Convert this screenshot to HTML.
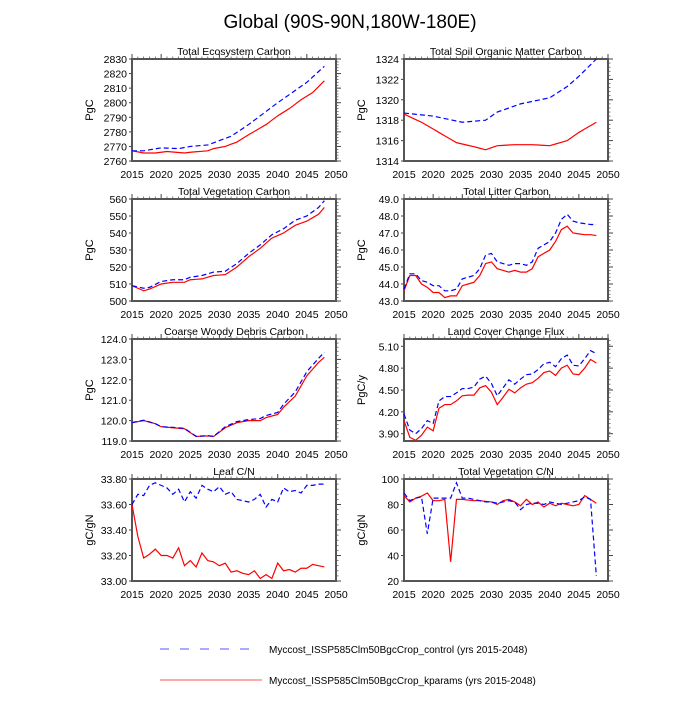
<!DOCTYPE html>
<html><head><meta charset="utf-8"><style>
body{margin:0;background:#fff;width:700px;height:700px;overflow:hidden}
svg text{font-family:"Liberation Sans",sans-serif;fill:#000}
</style></head><body>
<svg id="s" width="700" height="700" xmlns="http://www.w3.org/2000/svg">
<text x="350" y="28" font-size="19" text-anchor="middle">Global (90S-90N,180W-180E)</text>
<line x1="160" y1="649" x2="256" y2="649" stroke="#5555ff" stroke-width="1" stroke-dasharray="9,11"/>
<text x="269" y="653" font-size="10">Myccost_ISSP585Clm50BgcCrop_control (yrs 2015-2048)</text>
<line x1="160" y1="680" x2="262" y2="680" stroke="#ff5555" stroke-width="1"/>
<text x="269" y="684" font-size="10">Myccost_ISSP585Clm50BgcCrop_kparams (yrs 2015-2048)</text>
</svg>
<script>
const S=document.getElementById('s');
function el(t,a,txt){const e=document.createElementNS('http://www.w3.org/2000/svg',t);for(const k in a)e.setAttribute(k,a[k]);if(txt!==undefined)e.textContent=txt;S.appendChild(e);return e;}
function interp(pts){const out=[];for(let y=2015;y<=2048;y++){let i=0;while(i<pts.length-2&&pts[i+1][0]<y)i++;const [x0,v0]=pts[i],[x1,v1]=pts[i+1];out.push(v0+(v1-v0)*(y-x0)/(x1-x0));}return out;}
function panel(o){
 const X=o.x,Y=o.y,W=204,H=102;
 const sx=y=>X+(y-2015)*W/35, sy=v=>Y+H-(v-o.min)/(o.max-o.min)*H;
 el('text',{x:X+W/2,y:Y-4,'font-size':10.5,'text-anchor':'middle'},o.title);
 el('text',{x:0,y:0,'font-size':11,'text-anchor':'middle',transform:`translate(${X-39},${Y+H/2}) rotate(-90)`},o.ylab);
 for(let y=2015;y<=2050;y+=5){el('text',{x:sx(y),y:Y+H+17,'font-size':10.5,'text-anchor':'middle'},String(y));
  el('line',{x1:sx(y),y1:Y,x2:sx(y),y2:Y-5,stroke:'#444','stroke-width':1});}
 for(let y=2016;y<2050;y++) if((y-2015)%5) el('line',{x1:sx(y),y1:Y,x2:sx(y),y2:Y-2.5,stroke:'#444','stroke-width':0.7});
 o.ticks.forEach(v=>{el('text',{x:X-5,y:sy(v)+4,'font-size':10.5,'text-anchor':'end'},v.toFixed(o.dec));
  el('line',{x1:X+W,y1:sy(v),x2:X+W+5,y2:sy(v),stroke:'#444','stroke-width':1});
  el('line',{x1:X,y1:sy(v),x2:X-3,y2:sy(v),stroke:'#444','stroke-width':1});});
 const step=(o.ticks[1]-o.ticks[0])/5;
 for(let v=o.min;v<=o.max+1e-9;v+=step){el('line',{x1:X+W,y1:sy(v),x2:X+W+2.5,y2:sy(v),stroke:'#444','stroke-width':0.7});}
 el('rect',{x:X,y:Y,width:W,height:H,fill:'none',stroke:'#555','stroke-width':2});
 const line=(d,c,dash)=>{const v=d.length===34?d:interp(d);el('polyline',{points:v.map((q,i)=>sx(2015+i)+','+sy(q)).join(' '),fill:'none',stroke:c,'stroke-width':1.2,'stroke-dasharray':dash||'none'});};
 line(o.red,'#ff0000');line(o.blue,'#0000ff','5,3');
}
const L=132,R=404,rows=[59,199,339,479];
const r=(a,b,s)=>{const o=[];for(let v=a;v<=b+1e-9;v+=s)o.push(+v.toFixed(4));return o;};
panel({x:L,y:rows[0],title:'Total Ecosystem Carbon',ylab:'PgC',min:2760,max:2830,ticks:r(2760,2830,10),dec:0,
 blue:[[2015,2767],[2017,2767],[2020,2769],[2023,2768.5],[2025,2770],[2028,2771],[2030,2774],[2032,2777],[2035,2785],[2040,2800],[2045,2814],[2048,2825]],
 red:[[2015,2767],[2017,2765.5],[2019,2765.5],[2021,2766.5],[2024,2765.5],[2025,2766],[2028,2767],[2029,2768.5],[2031,2770],[2033,2773],[2035,2778],[2038,2785],[2040,2791],[2042,2796],[2044,2802],[2046,2807],[2048,2815]]});
panel({x:R,y:rows[0],title:'Total Soil Organic Matter Carbon',ylab:'PgC',min:1314,max:1324,ticks:r(1314,1324,2),dec:0,
 blue:[[2015,1318.7],[2020,1318.4],[2025,1317.8],[2029,1318],[2031,1318.8],[2035,1319.6],[2040,1320.2],[2043,1321.3],[2045,1322.3],[2048,1324]],
 red:[[2015,1318.6],[2018,1317.8],[2021,1316.8],[2024,1315.8],[2027,1315.4],[2029,1315.1],[2031,1315.5],[2034,1315.6],[2037,1315.6],[2040,1315.5],[2043,1316],[2045,1316.8],[2048,1317.8]]});
panel({x:L,y:rows[1],title:'Total Vegetation Carbon',ylab:'PgC',min:500,max:560,ticks:r(500,560,10),dec:0,
 red:[[2015,509],[2017,506],[2018,507],[2020,510],[2022,511],[2024,511],[2025,512.5],[2027,513],[2029,515],[2031,515.5],[2033,520],[2035,526],[2037,531],[2039,537],[2041,540],[2043,544.5],[2045,547],[2047,551],[2048,555]],
 blue:[[2015,509],[2017,507.5],[2018,508],[2020,511.5],[2022,512.5],[2024,512.5],[2025,514],[2027,515],[2029,517],[2031,517.5],[2033,522],[2035,528],[2037,533],[2039,539],[2041,542.5],[2043,547.5],[2045,550],[2047,555],[2048,559]]});
panel({x:R,y:rows[1],title:'Total Litter Carbon',ylab:'PgC',min:43,max:49,ticks:r(43,49,1),dec:1,
 red:[43.6,44.5,44.5,44.0,43.8,43.5,43.5,43.2,43.3,43.3,43.9,44.0,44.1,44.5,45.2,45.3,44.9,44.8,44.7,44.8,44.7,44.7,44.9,45.6,45.8,46.0,46.5,47.2,47.4,47.0,46.95,46.9,46.9,46.85],
 blue:[43.7,44.6,44.6,44.2,44.1,43.9,43.9,43.6,43.6,43.7,44.3,44.4,44.5,44.9,45.7,45.8,45.3,45.2,45.1,45.2,45.2,45.1,45.3,46.1,46.3,46.5,47.0,47.8,48.1,47.7,47.6,47.55,47.5,47.5]});
panel({x:L,y:rows[2],title:'Coarse Woody Debris Carbon',ylab:'PgC',min:119,max:124,ticks:r(119,124,1),dec:1,
 red:[[2015,119.9],[2017,120.0],[2019,119.85],[2020,119.7],[2022,119.65],[2024,119.6],[2026,119.22],[2028,119.25],[2029,119.22],[2031,119.65],[2033,119.9],[2035,120.0],[2037,120.0],[2038,120.15],[2040,120.3],[2041,120.65],[2043,121.2],[2045,122.2],[2047,122.85],[2048,123.1]],
 blue:[[2015,119.9],[2017,120.02],[2019,119.85],[2020,119.7],[2022,119.67],[2024,119.62],[2026,119.23],[2028,119.26],[2029,119.23],[2031,119.7],[2033,119.95],[2035,120.05],[2037,120.1],[2038,120.25],[2040,120.4],[2041,120.8],[2043,121.4],[2045,122.4],[2047,123.05],[2048,123.35]]});
panel({x:R,y:rows[2],title:'Land Cover Change Flux',ylab:'PgC/y',min:3.8,max:5.2,ticks:[3.9,4.2,4.5,4.8,5.1],dec:2,
 red:[4.08,3.85,3.81,3.88,3.99,3.94,4.25,4.30,4.30,4.35,4.42,4.43,4.43,4.53,4.56,4.47,4.30,4.40,4.51,4.46,4.53,4.58,4.60,4.66,4.74,4.76,4.70,4.80,4.84,4.72,4.71,4.80,4.92,4.87],
 blue:[4.17,3.95,3.90,3.97,4.08,4.04,4.35,4.41,4.41,4.46,4.52,4.52,4.54,4.65,4.69,4.59,4.42,4.53,4.64,4.58,4.65,4.71,4.72,4.78,4.86,4.88,4.82,4.93,4.98,4.84,4.83,4.93,5.04,5.00]});
panel({x:L,y:rows[3],title:'Leaf C/N',ylab:'gC/gN',min:33.0,max:33.8,ticks:[33.0,33.2,33.4,33.6,33.8],dec:2,
 red:[33.60,33.35,33.18,33.21,33.25,33.20,33.20,33.18,33.26,33.12,33.16,33.11,33.22,33.16,33.15,33.12,33.14,33.07,33.08,33.06,33.05,33.08,33.02,33.05,33.02,33.14,33.08,33.09,33.07,33.10,33.10,33.13,33.12,33.11],
 blue:[33.60,33.68,33.67,33.75,33.77,33.75,33.73,33.68,33.72,33.62,33.70,33.65,33.75,33.72,33.70,33.74,33.68,33.70,33.64,33.63,33.62,33.64,33.68,33.58,33.64,33.62,33.73,33.70,33.71,33.69,33.75,33.75,33.76,33.76]});
panel({x:R,y:rows[3],title:'Total Vegetation C/N',ylab:'gC/gN',min:20,max:100,ticks:[20,40,60,80,100],dec:0,
 red:[87,82,85,86.5,89,83,83,84,35,84,84,83.5,83,83,82.5,82,80,83,84,82,79,84,80,82,78,81,79,81,80,79,80,87,84,81],
 blue:[89,83,85,86,57,85,85,85,85,97,85,85,84,83,82,82,81,82,83,82,76,80,81,81,80,82,81,80,81,82,83,86,84,24]});
</script>
</body></html>
